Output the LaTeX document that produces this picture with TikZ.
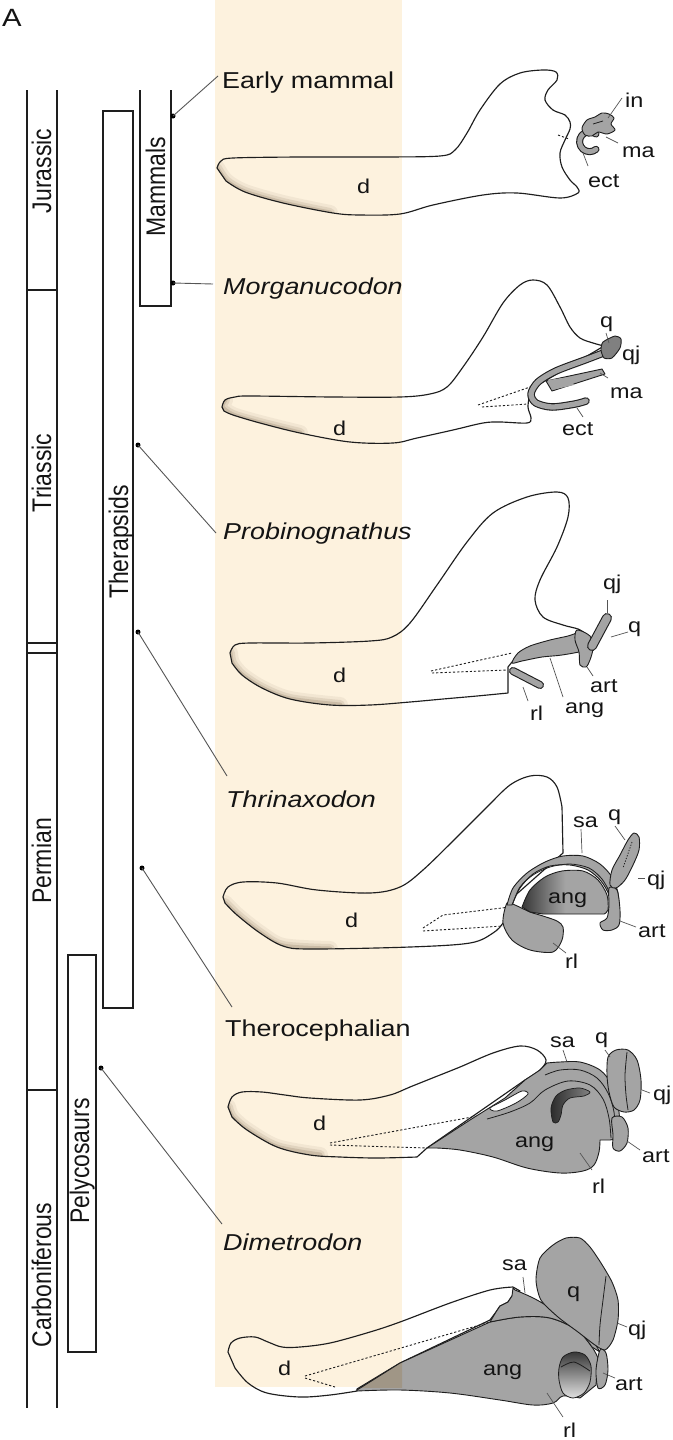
\documentclass[tikz,border=0pt]{standalone}
\usepackage{fontspec}
\setmainfont{Liberation Sans}
\usepackage{graphicx}
\definecolor{bandcol}{RGB}{253,242,222}
\definecolor{bonegray}{RGB}{164,164,164}
\definecolor{bonedark}{RGB}{128,128,128}
\definecolor{inkc}{RGB}{30,30,30}
\definecolor{leadc}{RGB}{85,85,85}
\definecolor{shadec}{RGB}{115,95,70}
\definecolor{overlapc}{RGB}{160,150,134}
\definecolor{deepc}{RGB}{55,55,55}
\newcommand\hstr[1]{\scalebox{1.17}[1]{#1}}
\newcommand\vstr[1]{\scalebox{1}[1.17]{#1}}
% soft shadow along the inner lower edge of a dentary
\newcommand\jawshade[2]{%
  \begin{scope}
    \clip #1;
    \draw[draw=shadec,line width=16pt,opacity=0.08,line cap=round,line join=round] #2;
    \draw[draw=shadec,line width=10pt,opacity=0.13,line cap=round,line join=round] #2;
    \draw[draw=shadec,line width=5pt,opacity=0.2,line cap=round,line join=round] #2;
  \end{scope}}
% dentary outlines
\def\dentA{plot[smooth,tension=0.55] coordinates {(217,168)(221,161)(233,158)(300,157)(380,157)(440,156)(455,150)(467,133)(480,110)(500,84)(520,73)(543,70)(556,72)(557,80)(548,90)(545,100)(553,110)(565,115)(570,122)(570,129)(565,140)(560,153)(562,167)(570,180)(577,187)(578,193)(560,198)(517,193)(483,195)(433,205)(400,214)(360,215)(333,213)(283,203)(245,192)(226,181)} -- cycle}
\def\dentB{plot[smooth,tension=0.55] coordinates {(222,407)(225,400)(235,397)(250,396)(333,397)(400,397)(430,394)(447,387)(463,367)(483,337)(503,303)(520,285)(533,280)(547,285)(560,307)(570,327)(580,338)(593,343)(604,346)} -- (533,388) -- plot[smooth,tension=0.55] coordinates {(530,392)(528,407)(531,418)(527,423)(500,422)(483,423)(453,430)(417,438)(393,443)(350,442)(300,433)(260,423)(233,415)(224,411)} -- cycle}
\def\dentC{plot[smooth,tension=0.55] coordinates {(230,653)(235,645)(250,643)(310,643)(370,641)(392,637)(410,623)(437,585)(467,542)(493,513)(527,497)(557,492)(568,498)(568,517)(557,547)(540,580)(535,600)(543,617)(563,625)(578,629)(586,634)} -- (512,662) -- (508,667) -- (508,693) -- plot[smooth,tension=0.55] coordinates {(508,693)(477,696)(443,699)(410,702)(370,705)(330,705)(290,699)(262,688)(242,675)(232,663)} -- cycle}
\def\dentD{plot[smooth,tension=0.55] coordinates {(223,897)(228,887)(243,882)(277,883)(317,890)(370,893)(400,887)(423,870)(457,837)(487,807)(510,785)(530,776)(547,777)(557,787)(562,807)} -- (563,853) -- (510,900) -- plot[smooth,tension=0.55] coordinates {(505,915)(503,923)(493,933)(470,943)(410,947)(310,949)(283,946)(260,933)(237,915)(225,903)} -- cycle}
\def\dentE{plot[smooth,tension=0.55] coordinates {(228,1107)(232,1097)(242,1092)(262,1092)(285,1095)(310,1098)(360,1100)(390,1095)(410,1087)(435,1077)(460,1067)(493,1053)(520,1046)(537,1050)(546,1060)(540,1070)(525,1080)} -- (427,1148) -- (417,1157) -- plot[smooth,tension=0.55] coordinates {(417,1157)(377,1158)(340,1157)(310,1155)(277,1147)(247,1130)(232,1117)} -- cycle}
\def\dentF{plot[smooth,tension=0.55] coordinates {(228,1352)(231,1343)(240,1338)(255,1337)(268,1342)(282,1347)(300,1347)(330,1343)(370,1332)(400,1322)(450,1303)(490,1290)(513,1287)} -- (520,1291) -- (512,1296) -- (508,1302) -- (500,1306) -- (496,1312) -- (490,1320) -- (400,1363) -- (357,1389) -- plot[smooth,tension=0.55] coordinates {(357,1391)(330,1395)(300,1397)(267,1393)(248,1383)(235,1368)} -- cycle}
% angular of the pelycosaur jaw
\def\angF{(357,1390) -- (400,1363) -- (490,1322) -- plot[smooth,tension=0.55] coordinates {(490,1322)(520,1317)(550,1318)(577,1330)(592,1347)(598,1358)} -- (596,1385) -- plot[smooth,tension=0.55] coordinates {(580,1398)(563,1396)(553,1403)(533,1405)(500,1400)(450,1393)(400,1390)(357,1391)} -- cycle}
\begin{document}
\begin{tikzpicture}[x=1pt,y=-1pt,
  outline/.style={draw=inkc,line width=1.15pt,line join=round},
  bone/.style={fill=bonegray,draw=inkc,line width=0.9pt,line join=round},
  seam/.style={draw=inkc,line width=0.8pt,line join=round},
  hidden/.style={draw=inkc,line width=0.9pt,dash pattern=on 2.2pt off 2pt},
  leader/.style={draw=leadc,line width=0.9pt},
  tick/.style={draw=leadc,line width=0.7pt},
  bar/.style={draw=inkc,line width=1.2pt},
  bandout/.style={draw=inkc,line cap=round,line join=round},
  bandin/.style={draw=bonegray,line cap=round,line join=round},
  dot/.style={circle,fill=black,inner sep=0pt,minimum size=5pt},
  taxon/.style={anchor=base west,inner sep=0pt,text=black!92,font=\fontsize{23}{23}\selectfont},
  part/.style={anchor=base west,inner sep=0pt,text=black!92,font=\fontsize{20}{20}\selectfont},
  period/.style={rotate=90,anchor=base,inner sep=0pt,text=black!92,font=\fontsize{23}{23}\selectfont}]

\useasboundingbox (0,0) rectangle (672,1440);
\fill[white] (0,0) rectangle (672,1440);
\fill[bandcol] (215,0) rectangle (402,1387);

\node[anchor=base west,inner sep=0pt,text=black!92,font=\fontsize{25}{25}\selectfont] (panel) at (2,26) {\hstr{A}};

% ---------- time scale ----------
\draw[bar] (27,90) -- (27,1408);
\draw[bar] (57,90) -- (57,1408);
\draw[bar] (27,290) -- (57,290);
\draw[bar] (27,643) -- (57,643);
\draw[bar] (27,653) -- (57,653);
\draw[bar] (27,1090) -- (57,1090);
\node[period] (jur) at (51,171) {\vstr{Jurassic}};
\node[period] (tri) at (51,473) {\vstr{Triassic}};
\node[period] (per) at (51,861) {\vstr{Permian}};
\node[period] (car) at (51,1275) {\vstr{Carboniferous}};

% ---------- clade ranges ----------
\draw[bar] (103,111) rectangle (133,1008);
\draw[bar] (140,90) -- (140,306) -- (171,306) -- (171,90);
\draw[bar] (68,955) rectangle (96,1352);
\node[period] (thp) at (128,542) {\vstr{Therapsids}};
\node[period] (mam) at (165,187) {\vstr{Mammals}};
\node[period] (pel) at (89,1161) {\vstr{Pelycosaurs}};

% ---------- taxa ----------
\node[dot] (dEM) at (173,116) {};
\node[dot] (dMo) at (173,283) {};
\node[dot] (dPr) at (138,445) {};
\node[dot] (dTh) at (138,632) {};
\node[dot] (dTc) at (142,868) {};
\node[dot] (dDi) at (101,1068) {};
\coordinate (eEM) at (218,76);
\coordinate (eMo) at (213,284);
\coordinate (ePr) at (216,533);
\coordinate (eTh) at (227,776);
\coordinate (eTc) at (232,1007);
\coordinate (eDi) at (222,1224);
\draw[leader] (dEM.center) -- (eEM);
\draw[leader] (dMo.center) -- (eMo);
\draw[leader] (dPr.center) -- (ePr);
\draw[leader] (dTh.center) -- (eTh);
\draw[leader] (dTc.center) -- (eTc);
\draw[leader] (dDi.center) -- (eDi);
\node[taxon] (nEM) at (222,88) {\hstr{Early mammal}};
\node[taxon] (nMo) at (223,294) {\hstr{\itshape Morganucodon}};
\node[taxon] (nPr) at (223,539) {\hstr{\itshape Probinognathus}};
\node[taxon] (nTh) at (226,807) {\hstr{\itshape Thrinaxodon}};
\node[taxon] (nTc) at (225,1036) {\hstr{Therocephalian}};
\node[taxon] (nDi) at (223,1250) {\hstr{\itshape Dimetrodon}};

% ---------- jaw 1: early mammal ----------
\jawshade{\dentA}{plot[smooth] coordinates {(330,213)(283,203)(245,192)(226,181)(217,168)}}
\draw[outline] \dentA;
\draw[hidden] (558,135) -- (569,139);
\draw[line width=7pt,bandout] (596,134) arc[start angle=-50,end angle=-310,radius=10];
\draw[line width=4.8pt,bandin] (596,134) arc[start angle=-50,end angle=-310,radius=10];
\draw[bone] plot[smooth cycle,tension=0.5] coordinates {(582,128)(587,120)(595,117)(602,113)(609,114)(614,118)(611,124)(615,130)(607,134)(598,132)(592,136)(585,135)};
\draw[seam] (593,124) -- (603,121);
\draw[tick] (608,118) -- (622,98);
\draw[tick] (606,137) -- (618,143);
\draw[tick] (583,153) -- (588,166);
\node[part] (inA) at (625,107) {\hstr{in}};
\node[part] (maA) at (622,157) {\hstr{ma}};
\node[part] (ectA) at (588,187) {\hstr{ect}};
\node[part] (dA) at (357,193) {\hstr{d}};

% ---------- jaw 2: Morganucodon ----------
\jawshade{\dentB}{plot[smooth] coordinates {(300,433)(260,423)(233,415)(222,407)(225,400)}}
\draw[outline] \dentB;
\draw[hidden] (478,405) -- (530,387);
\draw[hidden] (482,407) -- (528,404);
\draw[bone] (546,381) -- (602,369) -- (605,374) -- (552,391) -- cycle;
\draw[line width=7.5pt,bandout] plot[smooth] coordinates {(606,352)(585,360)(556,371)(538,382)(531,394)(536,403)(552,407)(575,404)(586,401)};
\draw[line width=5.3pt,bandin] plot[smooth] coordinates {(606,352)(585,360)(556,371)(538,382)(531,394)(536,403)(552,407)(575,404)(586,401)};
\fill[bonegray] (548,380) -- (570,377) -- (574,385) -- (552,390) -- cycle;
\draw[bone,fill=bonedark] plot[smooth cycle,tension=0.4] coordinates {(603,342)(615,336)(621,339)(620,348)(612,358)(604,358)(601,350)};
\draw[tick] (606,333) -- (609,343);
\draw[tick] (600,373) -- (608,378);
\draw[tick] (577,408) -- (583,417);
\node[part] (qB) at (600,327) {\hstr{q}};
\node[part] (qjB) at (622,360) {\hstr{qj}};
\node[part] (maB) at (610,398) {\hstr{ma}};
\node[part] (ectB) at (562,435) {\hstr{ect}};
\node[part] (dB) at (333,435) {\hstr{d}};

% ---------- jaw 3: Probinognathus ----------
\jawshade{\dentC}{plot[smooth] coordinates {(340,705)(290,699)(262,688)(242,675)(232,663)(230,653)}}
\draw[outline] \dentC;
\draw[hidden] (431,671) -- (512,653);
\draw[hidden] (432,673) -- (507,670);
\draw[line width=8pt,bandout] (513,671) -- (540,685);
\draw[line width=5.8pt,bandin] (513,671) -- (540,685);
\draw[bone] plot[smooth cycle,tension=0.5] coordinates {(512,663)(518,653)(530,646)(550,640)(568,636)(582,632)(588,640)(585,650)(562,655)(542,657)(522,661)};
\draw[bone] plot[smooth cycle,tension=0.5] coordinates {(577,630)(590,636)(593,648)(590,660)(586,667)(580,665)(579,652)(575,640)};
\draw[line width=10pt,bandout] (592,646) -- (607,618);
\draw[line width=7.8pt,bandin] (592,646) -- (607,618);
\draw[tick] (607,600) -- (607,613);
\draw[tick] (611,637) -- (628,632);
\draw[tick] (587,667) -- (593,676);
\draw[tick] (550,658) -- (563,697);
\draw[tick] (523,687) -- (528,701);
\node[part] (qjC) at (603,589) {\hstr{qj}};
\node[part] (qC) at (628,632) {\hstr{q}};
\node[part] (artC) at (590,692) {\hstr{art}};
\node[part] (angC) at (565,713) {\hstr{ang}};
\node[part] (rlC) at (530,720) {\hstr{rl}};
\node[part] (dC) at (333,682) {\hstr{d}};

% ---------- jaw 4: Thrinaxodon ----------
\jawshade{\dentD}{plot[smooth] coordinates {(330,949)(283,946)(260,933)(237,915)(225,903)}}
\draw[outline] \dentD;
\draw[hidden] (423,928) -- (443,915) -- (510,907);
\draw[hidden] (423,931) -- (503,926);
\draw[bone] plot[smooth cycle,tension=0.5] coordinates {(507,903)(503,923)(512,940)(530,950)(553,952)(562,940)(563,927)(557,921)(543,916)(530,912)(515,905)};
\draw[bone] plot[smooth,tension=0.5] coordinates {(507,905)(513,888)(527,873)(545,862)(563,856)(583,856)(600,864)(612,877)(618,893)(619,910)(618,924)} -- plot[smooth,tension=0.5] coordinates {(611,924)(611,910)(609,895)(601,881)(588,870)(570,865)(550,866)(533,874)(520,888)(512,905)} -- cycle;
\draw[seam] plot[smooth,tension=0.5] coordinates {(513,903)(520,887)(533,875)(550,867)(570,864)(589,868)(602,879)(610,894)(612,910)};
\draw[draw=inkc,line width=0.9pt,left color=deepc,right color=bonegray,middle color=bonegray] plot[smooth,tension=0.5] coordinates {(522,907)(530,890)(545,877)(562,871)(583,871)(598,880)(607,895)(608,910)(604,914)} -- (543,914) -- (530,912) -- cycle;
\draw[bone] plot[smooth cycle,tension=0.5] coordinates {(609,888)(617,890)(620,910)(619,925)(612,930)(603,930)(600,923)(607,918)(609,905)};
\draw[bone] plot[smooth cycle,tension=0.5] coordinates {(610,885)(612,870)(620,855)(628,840)(634,833)(639,837)(639,850)(633,865)(625,880)(616,888)};
\draw[draw=inkc,line width=0.8pt,dash pattern=on 1.2pt off 1.6pt] (632,842) -- (623,868);
\draw[tick] (581,829) -- (582,853);
\draw[tick] (615,826) -- (625,840);
\draw[tick] (638,878) -- (645,878);
\draw[tick] (620,921) -- (636,927);
\draw[tick] (553,943) -- (566,953);
\node[part] (saD) at (573,827) {\hstr{sa}};
\node[part] (qD) at (608,820) {\hstr{q}};
\node[part] (qjD) at (647,885) {\hstr{qj}};
\node[part] (artD) at (638,937) {\hstr{art}};
\node[part] (angD) at (548,903) {\hstr{ang}};
\node[part] (rlD) at (565,968) {\hstr{rl}};
\node[part] (dD) at (345,927) {\hstr{d}};

% ---------- jaw 5: therocephalian ----------
\jawshade{\dentE}{plot[smooth] coordinates {(320,1155)(277,1147)(247,1130)(232,1117)(228,1107)}}
\draw[outline] \dentE;
\draw[hidden] (330,1143) -- (483,1115);
\draw[hidden] (330,1145) -- (427,1148);
\draw[bone] (427,1148) -- (470,1120) -- (505,1098) -- (525,1080) -- (540,1070) -- plot[smooth,tension=0.55] coordinates {(547,1063)(560,1062)(580,1062)(600,1070)(612,1085)(618,1105)(620,1125)(620,1138)} -- (610,1140) -- plot[smooth,tension=0.55] coordinates {(600,1140)(599,1152)(594,1165)(583,1171)(560,1173)(527,1168)(493,1157)(460,1150)(437,1148)} -- cycle;
\draw[seam] plot[smooth,tension=0.55] coordinates {(545,1075)(560,1070)(580,1070)(597,1078)(608,1093)(614,1112)(615,1135)};
\draw[seam] plot[smooth,tension=0.55] coordinates {(487,1119)(510,1112)(530,1103)(545,1090)(568,1081)(590,1085)(603,1099)(609,1118)(611,1138)};
\draw[seam,fill=white] plot[smooth cycle,tension=0.5] coordinates {(490,1108)(505,1100)(522,1091)(528,1094)(516,1103)(497,1111)};
\draw[draw=inkc,line width=0.7pt,left color=deepc!80!black,right color=bonegray!80!black] plot[smooth cycle,tension=0.5] coordinates {(553,1122)(551,1108)(556,1096)(566,1090)(580,1088)(590,1092)(584,1096)(570,1098)(563,1105)(561,1115)(558,1122)};
\draw[bone] plot[smooth cycle,tension=0.5] coordinates {(612,1118)(622,1117)(628,1128)(627,1143)(620,1151)(613,1148)(613,1135)};
\draw[bone] plot[smooth cycle,tension=0.5] coordinates {(608,1057)(616,1050)(628,1050)(637,1060)(641,1080)(640,1100)(634,1110)(624,1112)(614,1107)(609,1092)(607,1075)};
\draw[seam] plot[smooth] coordinates {(627,1052)(625,1075)(626,1095)(628,1110)};
\draw[tick] (563,1050) -- (567,1062);
\draw[tick] (605,1050) -- (610,1057);
\draw[tick] (642,1090) -- (650,1093);
\draw[tick] (627,1141) -- (640,1150);
\draw[tick] (580,1153) -- (592,1170);
\node[part] (saE) at (550,1047) {\hstr{sa}};
\node[part] (qE) at (595,1043) {\hstr{q}};
\node[part] (qjE) at (653,1100) {\hstr{qj}};
\node[part] (artE) at (642,1162) {\hstr{art}};
\node[part] (angE) at (515,1147) {\hstr{ang}};
\node[part] (rlE) at (592,1193) {\hstr{rl}};
\node[part] (dE) at (313,1130) {\hstr{d}};

% ---------- jaw 6: Dimetrodon ----------
\draw[outline] \dentF;
\draw[hidden] (305,1376) -- (490,1322);
\draw[hidden] (305,1378) -- (335,1387);
\fill[bonegray] \angF;
\begin{scope}
  \clip (215,0) rectangle (402,1387);
  \fill[overlapc] \angF;
\end{scope}
\draw[outline,line width=0.9pt] \angF;
\draw[bone] (513,1288) -- plot[smooth,tension=0.55] coordinates {(515,1290)(537,1300)(567,1319)(590,1338)(600,1352)} -- (592,1347) -- plot[smooth,tension=0.55] coordinates {(592,1347)(577,1330)(550,1318)(520,1317)(490,1322)} -- (496,1312) -- (500,1306) -- (508,1302) -- (512,1296) -- cycle;
\draw[bone] plot[smooth cycle,tension=0.45] coordinates {(540,1258)(553,1245)(566,1238)(580,1238)(590,1247)(601,1263)(612,1282)(618,1300)(618,1320)(613,1340)(605,1350)(595,1345)(578,1332)(558,1317)(541,1300)(536,1280)};
\draw[seam] plot[smooth] coordinates {(606,1276)(603,1300)(600,1325)(599,1345)};
\draw[bone] plot[smooth cycle,tension=0.5] coordinates {(600,1350)(606,1353)(608,1370)(605,1385)(598,1388)(596,1370)};
\draw[draw=inkc,line width=0.8pt,top color=deepc,bottom color=black!12] plot[smooth cycle,tension=0.5] coordinates {(559,1368)(563,1357)(574,1352)(585,1355)(591,1366)(590,1382)(584,1393)(573,1398)(563,1393)(559,1380)};
\draw[seam] plot[smooth] coordinates {(561,1367)(574,1362)(590,1371)};
\draw[tick] (523,1277) -- (525,1293);
\draw[tick] (617,1323) -- (627,1327);
\draw[tick] (603,1373) -- (615,1378);
\draw[tick] (547,1393) -- (563,1417);
\node[part] (saF) at (502,1270) {\hstr{sa}};
\node[part] (qF) at (567,1297) {\hstr{q}};
\node[part] (qjF) at (628,1335) {\hstr{qj}};
\node[part] (artF) at (615,1390) {\hstr{art}};
\node[part] (angF) at (483,1375) {\hstr{ang}};
\node[part] (rlF) at (563,1437) {\hstr{rl}};
\node[part] (dF) at (278,1375) {\hstr{d}};
\end{tikzpicture}
\end{document}
